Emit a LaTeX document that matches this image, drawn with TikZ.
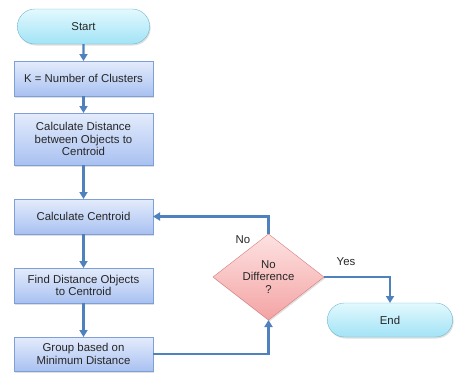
\documentclass[tikz,border=0pt]{standalone}
\usepackage{fontspec}
\setmainfont{Liberation Sans}
\usepackage{tikz}
\usetikzlibrary{shapes.misc}
\usetikzlibrary{shapes.geometric}
\usetikzlibrary{shadows}
\usetikzlibrary{arrows.meta}
\definecolor{flowblue}{HTML}{4F81BD}
\definecolor{boxtop}{HTML}{E4ECFC}
\definecolor{boxbot}{HTML}{A9C1F1}
\definecolor{boxline}{HTML}{7F9FD9}
\definecolor{termtop}{HTML}{E2F9FE}
\definecolor{termbot}{HTML}{A2E3F6}
\definecolor{termline}{HTML}{72B7D0}
\definecolor{dectop}{HTML}{FDE2E2}
\definecolor{decbot}{HTML}{F4A3A3}
\definecolor{decline}{HTML}{D87C7C}

\begin{document}
\begin{tikzpicture}[x = 1pt, y = -1pt,
  every node/.style = {font = \fontsize{11.4}{12.7}\selectfont, align = center, text = black!85},
  shade/.style = {drop shadow = {shadow xshift = 1pt, shadow yshift = -1.5pt, opacity = .25}},
  procbox/.style = {shade, rectangle, draw = boxline, top color = boxtop, bottom color = boxbot,
    minimum width = 139pt, minimum height = 35pt, inner sep = 2pt, outer sep = 0pt},
  termbox/.style = {shade, rounded rectangle, draw = termline, top color = termtop, bottom color = termbot,
    minimum width = 139pt, minimum height = 35pt, outer sep = 0pt},
  decbox/.style = {shade, diamond, draw = decline, top color = dectop, bottom color = decbot,
    minimum width = 111pt, minimum height = 86pt, inner sep = 0pt, outer sep = 0pt},
  flow/.style = {draw = flowblue, line width = 2.4pt, -{Triangle[width = 8pt, length = 7pt]}}]
  \useasboundingbox (0, 0) rectangle (454, 372);
  % left column
  \node (start) at (83.5, 26.5) [termbox] {Start};
  \node (kclus) at (83.5, 78.5) [procbox] {K = Number of Clusters};
  \node (dist) at (83.5, 139) [procbox, minimum height = 52pt] {Calculate Distance\\between Objects to\\Centroid};
  \node (cent) at (83.5, 216.5) [procbox] {Calculate Centroid};
  \node (find) at (83.5, 285.5) [procbox] {Find Distance Objects\\to Centroid};
  \node (group) at (83.5, 354) [procbox, minimum height = 34pt] {Group based on\\Minimum Distance};
  % decision and end
  \node (dec) at (268.5, 277) [decbox] {No\\Difference\\?};
  \node (stop) at (390, 320) [termbox, minimum width = 132pt, minimum height = 34pt] {End};
  \node (nolbl) at (243, 240) {No};
  \node (yeslbl) at (346, 262) {Yes};
  % connectors
  \draw[flow] (start) -- (kclus);
  \draw[flow] (kclus) -- (dist);
  \draw[flow] (dist) -- (cent);
  \draw[flow] (cent) -- (find);
  \draw[flow] (find) -- (group);
  \draw[flow] (group.east) -| (dec.south);
  \draw[flow] (dec.north) |- (cent.east);
  \draw[flow] (dec.east) -| (stop.north);
\end{tikzpicture}
\end{document}
